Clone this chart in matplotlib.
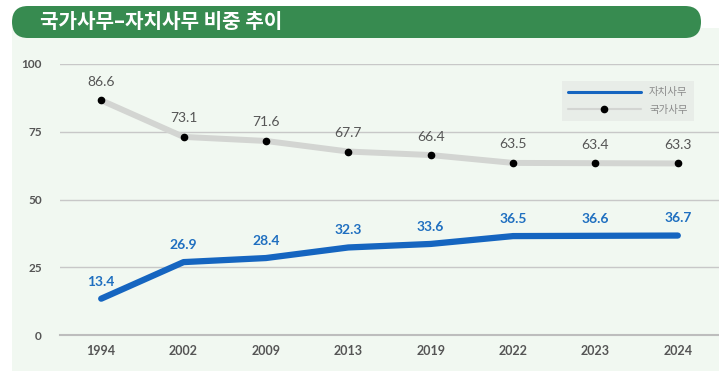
import matplotlib.pyplot as plt
from matplotlib.patches import FancyBboxPatch, Rectangle

plt.rcParams['font.family'] = ['Noto Sans CJK KR', 'DejaVu Sans']
NUM_FONT = ['Lato', 'DejaVu Sans']

years = ['1994', '2002', '2009', '2013', '2019', '2022', '2023', '2024']
jachi = [13.4, 26.9, 28.4, 32.3, 33.6, 36.5, 36.6, 36.7]     # 자치사무
gukga = [86.6, 73.1, 71.6, 67.7, 66.4, 63.5, 63.4, 63.3]     # 국가사무
yticks = [0, 25, 50, 75, 100]

W, H = 719, 371
fig = plt.figure(figsize=(W / 100, H / 100), dpi=100)
fig.patch.set_facecolor('white')

# 배경 패널과 제목 띠 (픽셀 좌표로 그림)
bg = fig.add_axes([0, 0, 1, 1], zorder=0)
bg.set_xlim(0, W)
bg.set_ylim(H, 0)
bg.axis('off')
bg.add_patch(Rectangle((12, 28), W - 12, H - 28, facecolor='#f1f8f1', edgecolor='none'))
bg.add_patch(FancyBboxPatch((12 + 16, 6), W - 12 - 32 - 2, 32,
                            boxstyle='round,pad=0,rounding_size=16',
                            facecolor='#378b50', edgecolor='none'))
bg.add_patch(Rectangle((12 + 16, 6), 30, 32, facecolor='#378b50', edgecolor='none'))
bg.add_patch(FancyBboxPatch((12, 6), 60, 32, boxstyle='round,pad=0,rounding_size=16',
                            facecolor='#378b50', edgecolor='none'))
bg.text(40, 22, '국가사무–자치사무 비중 추이', color='white',
        fontsize=14.5, fontweight='bold', va='center', ha='left')

ax = fig.add_axes([60 / W, 1 - 335 / H, 1 - 60 / W, (335 - 64) / H], zorder=2)
ax.set_facecolor('none')
x = range(len(years))

ax.plot(x, gukga, color='#d3d5d2', lw=4.3, solid_capstyle='round', zorder=2,
        marker='o', markersize=4.5, markerfacecolor='black', markeredgecolor='black',
        label='국가사무', clip_on=False)
ax.plot(x, jachi, color='#1565c0', lw=4.5, solid_capstyle='round', zorder=3,
        label='자치사무', clip_on=False)

for i, v in enumerate(gukga):
    ax.annotate(f'{v}', (i, v), xytext=(0, 9), textcoords='offset points',
                ha='center', va='bottom', fontsize=10, color='#555555', family=NUM_FONT)
for i, v in enumerate(jachi):
    ax.annotate(f'{v}', (i, v), xytext=(0, 8), textcoords='offset points',
                ha='center', va='bottom', fontsize=10, color='#1f6fc0',
                fontweight='bold', family=NUM_FONT)

ax.set_xlim(-0.5, 7.5)
ax.set_ylim(0, 100)
ax.set_yticks(yticks)
ax.set_xticks(list(x))
ax.set_xticklabels(years)
ax.tick_params(axis='both', length=0, colors='#555555', labelsize=9)
ax.tick_params(axis='y', pad=13, labelsize=8.5)
ax.tick_params(axis='x', pad=7)
for lab in ax.get_xticklabels() + ax.get_yticklabels():
    lab.set_fontweight('bold')
    lab.set_family(NUM_FONT)
ax.grid(axis='y', color='#c8c8c8', lw=1)
ax.set_axisbelow(True)
for s in ['top', 'right', 'left']:
    ax.spines[s].set_visible(False)
ax.spines['bottom'].set_color('#bdbdbd')
ax.spines['bottom'].set_linewidth(1.5)

h, l = ax.get_legend_handles_labels()
leg = ax.legend(h[::-1], l[::-1], loc='upper right',
                bbox_to_anchor=((699 - 60) / (W - 60), 1 - (76 - 64) / 271),
                frameon=True, fancybox=False, fontsize=7.5, handlelength=7,
                borderpad=0.6, labelspacing=0.7, handletextpad=0.8)
leg.get_frame().set_facecolor('#e6ebe6')
leg.get_frame().set_edgecolor('none')
for t in leg.get_texts():
    t.set_color('#8a8a8a')
lines = leg.get_lines()
lines[0].set_linewidth(2.2)
lines[1].set_linewidth(1.5)

fig.savefig('out.png', dpi=100, facecolor=fig.get_facecolor())
